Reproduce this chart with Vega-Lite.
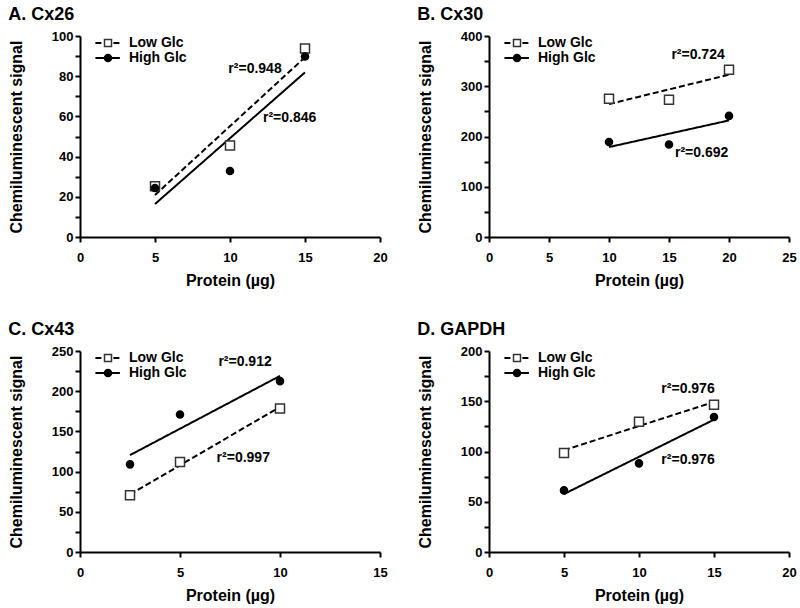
{
  "$schema": "https://vega.github.io/schema/vega-lite/v6.json",
  "background": "white",
  "padding": {"left": 8, "top": 6, "right": 5, "bottom": 2},
  "datasets": {
    "pts": [
      {"panel": "A", "group": "Low Glc", "x": 5, "y": 25.3},
      {"panel": "A", "group": "Low Glc", "x": 10, "y": 45.5},
      {"panel": "A", "group": "Low Glc", "x": 15, "y": 93.8},
      {"panel": "A", "group": "High Glc", "x": 5, "y": 24.4},
      {"panel": "A", "group": "High Glc", "x": 10, "y": 32.8},
      {"panel": "A", "group": "High Glc", "x": 15, "y": 89.8},
      {"panel": "B", "group": "Low Glc", "x": 10, "y": 275},
      {"panel": "B", "group": "Low Glc", "x": 15, "y": 273},
      {"panel": "B", "group": "Low Glc", "x": 20, "y": 333},
      {"panel": "B", "group": "High Glc", "x": 10, "y": 189},
      {"panel": "B", "group": "High Glc", "x": 15, "y": 184},
      {"panel": "B", "group": "High Glc", "x": 20, "y": 241},
      {"panel": "C", "group": "Low Glc", "x": 2.5, "y": 70.5},
      {"panel": "C", "group": "Low Glc", "x": 5, "y": 112},
      {"panel": "C", "group": "Low Glc", "x": 10, "y": 178.5},
      {"panel": "C", "group": "High Glc", "x": 2.5, "y": 109},
      {"panel": "C", "group": "High Glc", "x": 5, "y": 171},
      {"panel": "C", "group": "High Glc", "x": 10, "y": 212.5},
      {"panel": "D", "group": "Low Glc", "x": 5, "y": 98.5},
      {"panel": "D", "group": "Low Glc", "x": 10, "y": 129.5},
      {"panel": "D", "group": "Low Glc", "x": 15, "y": 146.5},
      {"panel": "D", "group": "High Glc", "x": 5, "y": 61.3},
      {"panel": "D", "group": "High Glc", "x": 10, "y": 88.2},
      {"panel": "D", "group": "High Glc", "x": 15, "y": 134.3}
    ],
    "fits": [
      {"panel": "A", "group": "Low Glc", "x": 5, "y": 20.9},
      {"panel": "A", "group": "Low Glc", "x": 15, "y": 89.4},
      {"panel": "A", "group": "High Glc", "x": 5, "y": 16.4},
      {"panel": "A", "group": "High Glc", "x": 15, "y": 81.9},
      {"panel": "B", "group": "Low Glc", "x": 10, "y": 264.5},
      {"panel": "B", "group": "Low Glc", "x": 20, "y": 323},
      {"panel": "B", "group": "High Glc", "x": 10, "y": 179},
      {"panel": "B", "group": "High Glc", "x": 20, "y": 232},
      {"panel": "C", "group": "Low Glc", "x": 2.5, "y": 71.5},
      {"panel": "C", "group": "Low Glc", "x": 10, "y": 180.5},
      {"panel": "C", "group": "High Glc", "x": 2.5, "y": 120.5},
      {"panel": "C", "group": "High Glc", "x": 10, "y": 219},
      {"panel": "D", "group": "Low Glc", "x": 5, "y": 101.3},
      {"panel": "D", "group": "Low Glc", "x": 15, "y": 149.3},
      {"panel": "D", "group": "High Glc", "x": 5, "y": 57.7},
      {"panel": "D", "group": "High Glc", "x": 15, "y": 131.7}
    ],
    "notes": [
      {"panel": "A", "x": 9.89, "y": 83.7, "label": "r²=0.948"},
      {"panel": "A", "x": 12.2, "y": 59.4, "label": "r²=0.846"},
      {"panel": "B", "x": 15.2, "y": 362, "label": "r²=0.724"},
      {"panel": "B", "x": 15.5, "y": 167, "label": "r²=0.692"},
      {"panel": "C", "x": 6.92, "y": 236, "label": "r²=0.912"},
      {"panel": "C", "x": 6.83, "y": 117, "label": "r²=0.997"},
      {"panel": "D", "x": 11.49, "y": 162, "label": "r²=0.976"},
      {"panel": "D", "x": 11.49, "y": 92, "label": "r²=0.976"}
    ]
  },
  "columns": 2,
  "spacing": {"row": 33, "column": 29},
  "concat": [
    {
      "width": 300, "height": 201,
      "title": "A. Cx26",
      "encoding": {
        "x": {"field": "x", "type": "quantitative", "scale": {"domain": [0, 20], "nice": false}, "axis": {"title": "Protein (µg)", "values": [0, 5, 10, 15, 20]}},
        "y": {"field": "y", "type": "quantitative", "scale": {"domain": [0, 100], "nice": false}, "axis": {"title": "Chemiluminescent signal", "values": [0, 10, 20, 30, 40, 50, 60, 70, 80, 90, 100], "labelExpr": "datum.value % 20 === 0 ? datum.label : ''"}}
      },
      "layer": [
        {"data": {"name": "fits"}, "transform": [{"filter": "datum.panel === 'A'"}], "mark": {"type": "line", "strokeWidth": 2, "color": "black"},
         "encoding": {"strokeDash": {"field": "group", "type": "nominal", "scale": {"domain": ["High Glc", "Low Glc"], "range": [[1, 0], [6, 3]]},
           "legend": {"title": null, "orient": "none", "legendX": 21, "legendY": 0, "values": ["Low Glc", "High Glc"], "padding": 0, "rowPadding": 1, "symbolType": "M-3.6,0H3.4", "symbolSize": 49, "symbolStrokeWidth": 2, "symbolStrokeColor": "black", "labelOffset": 14, "labelFont": "Liberation Sans", "labelFontSize": 14, "labelFontWeight": "bold", "labelOpacity": 0}}}},
        {"data": {"name": "pts"}, "transform": [{"filter": "datum.panel === 'A'"}], "mark": {"type": "point", "filled": true, "opacity": 1, "strokeWidth": 1.5},
         "encoding": {
           "shape": {"field": "group", "type": "nominal", "scale": {"domain": ["Low Glc", "High Glc"], "range": ["square", "circle"]},
             "legend": {"title": null, "orient": "none", "legendX": 21, "legendY": 0, "padding": 0, "rowPadding": 1, "symbolSize": 49, "symbolStrokeWidth": 1.5, "labelOffset": 14, "labelFont": "Liberation Sans", "labelFontSize": 14, "labelFontWeight": "bold", "labelColor": "black"}},
           "fill": {"field": "group", "type": "nominal", "scale": {"domain": ["Low Glc", "High Glc"], "range": ["white", "black"]}},
           "stroke": {"field": "group", "type": "nominal", "scale": {"domain": ["Low Glc", "High Glc"], "range": ["#333333", "black"]}},
           "size": {"condition": {"test": "datum.group === 'Low Glc'", "value": 81}, "value": 50}
         }},
        {"data": {"name": "notes"}, "transform": [{"filter": "datum.panel === 'A'"}], "mark": {"type": "text", "align": "left", "baseline": "middle", "font": "Liberation Sans", "fontSize": 14, "fontWeight": "bold", "color": "black"},
         "encoding": {"text": {"field": "label"}}}
      ]
    },
    {
      "width": 300, "height": 201,
      "title": "B. Cx30",
      "encoding": {
        "x": {"field": "x", "type": "quantitative", "scale": {"domain": [0, 25], "nice": false}, "axis": {"title": "Protein (µg)", "values": [0, 5, 10, 15, 20, 25]}},
        "y": {"field": "y", "type": "quantitative", "scale": {"domain": [0, 400], "nice": false}, "axis": {"title": "Chemiluminescent signal", "values": [0, 50, 100, 150, 200, 250, 300, 350, 400], "labelExpr": "datum.value % 100 === 0 ? datum.label : ''"}}
      },
      "layer": [
        {"data": {"name": "fits"}, "transform": [{"filter": "datum.panel === 'B'"}], "mark": {"type": "line", "strokeWidth": 2, "color": "black"},
         "encoding": {"strokeDash": {"field": "group", "type": "nominal", "scale": {"domain": ["High Glc", "Low Glc"], "range": [[1, 0], [6, 3]]},
           "legend": {"title": null, "orient": "none", "legendX": 21, "legendY": 0, "values": ["Low Glc", "High Glc"], "padding": 0, "rowPadding": 1, "symbolType": "M-3.6,0H3.4", "symbolSize": 49, "symbolStrokeWidth": 2, "symbolStrokeColor": "black", "labelOffset": 14, "labelFont": "Liberation Sans", "labelFontSize": 14, "labelFontWeight": "bold", "labelOpacity": 0}}}},
        {"data": {"name": "pts"}, "transform": [{"filter": "datum.panel === 'B'"}], "mark": {"type": "point", "filled": true, "opacity": 1, "strokeWidth": 1.5},
         "encoding": {
           "shape": {"field": "group", "type": "nominal", "scale": {"domain": ["Low Glc", "High Glc"], "range": ["square", "circle"]},
             "legend": {"title": null, "orient": "none", "legendX": 21, "legendY": 0, "padding": 0, "rowPadding": 1, "symbolSize": 49, "symbolStrokeWidth": 1.5, "labelOffset": 14, "labelFont": "Liberation Sans", "labelFontSize": 14, "labelFontWeight": "bold", "labelColor": "black"}},
           "fill": {"field": "group", "type": "nominal", "scale": {"domain": ["Low Glc", "High Glc"], "range": ["white", "black"]}},
           "stroke": {"field": "group", "type": "nominal", "scale": {"domain": ["Low Glc", "High Glc"], "range": ["#333333", "black"]}},
           "size": {"condition": {"test": "datum.group === 'Low Glc'", "value": 81}, "value": 50}
         }},
        {"data": {"name": "notes"}, "transform": [{"filter": "datum.panel === 'B'"}], "mark": {"type": "text", "align": "left", "baseline": "middle", "font": "Liberation Sans", "fontSize": 14, "fontWeight": "bold", "color": "black"},
         "encoding": {"text": {"field": "label"}}}
      ]
    },
    {
      "width": 300, "height": 201,
      "title": "C. Cx43",
      "encoding": {
        "x": {"field": "x", "type": "quantitative", "scale": {"domain": [0, 15], "nice": false}, "axis": {"title": "Protein (µg)", "values": [0, 5, 10, 15]}},
        "y": {"field": "y", "type": "quantitative", "scale": {"domain": [0, 250], "nice": false}, "axis": {"title": "Chemiluminescent signal", "values": [0, 25, 50, 75, 100, 125, 150, 175, 200, 225, 250], "labelExpr": "datum.value % 50 === 0 ? datum.label : ''"}}
      },
      "layer": [
        {"data": {"name": "fits"}, "transform": [{"filter": "datum.panel === 'C'"}], "mark": {"type": "line", "strokeWidth": 2, "color": "black"},
         "encoding": {"strokeDash": {"field": "group", "type": "nominal", "scale": {"domain": ["High Glc", "Low Glc"], "range": [[1, 0], [6, 3]]},
           "legend": {"title": null, "orient": "none", "legendX": 21, "legendY": 0, "values": ["Low Glc", "High Glc"], "padding": 0, "rowPadding": 1, "symbolType": "M-3.6,0H3.4", "symbolSize": 49, "symbolStrokeWidth": 2, "symbolStrokeColor": "black", "labelOffset": 14, "labelFont": "Liberation Sans", "labelFontSize": 14, "labelFontWeight": "bold", "labelOpacity": 0}}}},
        {"data": {"name": "pts"}, "transform": [{"filter": "datum.panel === 'C'"}], "mark": {"type": "point", "filled": true, "opacity": 1, "strokeWidth": 1.5},
         "encoding": {
           "shape": {"field": "group", "type": "nominal", "scale": {"domain": ["Low Glc", "High Glc"], "range": ["square", "circle"]},
             "legend": {"title": null, "orient": "none", "legendX": 21, "legendY": 0, "padding": 0, "rowPadding": 1, "symbolSize": 49, "symbolStrokeWidth": 1.5, "labelOffset": 14, "labelFont": "Liberation Sans", "labelFontSize": 14, "labelFontWeight": "bold", "labelColor": "black"}},
           "fill": {"field": "group", "type": "nominal", "scale": {"domain": ["Low Glc", "High Glc"], "range": ["white", "black"]}},
           "stroke": {"field": "group", "type": "nominal", "scale": {"domain": ["Low Glc", "High Glc"], "range": ["#333333", "black"]}},
           "size": {"condition": {"test": "datum.group === 'Low Glc'", "value": 81}, "value": 50}
         }},
        {"data": {"name": "notes"}, "transform": [{"filter": "datum.panel === 'C'"}], "mark": {"type": "text", "align": "left", "baseline": "middle", "font": "Liberation Sans", "fontSize": 14, "fontWeight": "bold", "color": "black"},
         "encoding": {"text": {"field": "label"}}}
      ]
    },
    {
      "width": 300, "height": 201,
      "title": "D. GAPDH",
      "encoding": {
        "x": {"field": "x", "type": "quantitative", "scale": {"domain": [0, 20], "nice": false}, "axis": {"title": "Protein (µg)", "values": [0, 5, 10, 15, 20]}},
        "y": {"field": "y", "type": "quantitative", "scale": {"domain": [0, 200], "nice": false}, "axis": {"title": "Chemiluminescent signal", "values": [0, 25, 50, 75, 100, 125, 150, 175, 200], "labelExpr": "datum.value % 50 === 0 ? datum.label : ''"}}
      },
      "layer": [
        {"data": {"name": "fits"}, "transform": [{"filter": "datum.panel === 'D'"}], "mark": {"type": "line", "strokeWidth": 2, "color": "black"},
         "encoding": {"strokeDash": {"field": "group", "type": "nominal", "scale": {"domain": ["High Glc", "Low Glc"], "range": [[1, 0], [6, 3]]},
           "legend": {"title": null, "orient": "none", "legendX": 21, "legendY": 0, "values": ["Low Glc", "High Glc"], "padding": 0, "rowPadding": 1, "symbolType": "M-3.6,0H3.4", "symbolSize": 49, "symbolStrokeWidth": 2, "symbolStrokeColor": "black", "labelOffset": 14, "labelFont": "Liberation Sans", "labelFontSize": 14, "labelFontWeight": "bold", "labelOpacity": 0}}}},
        {"data": {"name": "pts"}, "transform": [{"filter": "datum.panel === 'D'"}], "mark": {"type": "point", "filled": true, "opacity": 1, "strokeWidth": 1.5},
         "encoding": {
           "shape": {"field": "group", "type": "nominal", "scale": {"domain": ["Low Glc", "High Glc"], "range": ["square", "circle"]},
             "legend": {"title": null, "orient": "none", "legendX": 21, "legendY": 0, "padding": 0, "rowPadding": 1, "symbolSize": 49, "symbolStrokeWidth": 1.5, "labelOffset": 14, "labelFont": "Liberation Sans", "labelFontSize": 14, "labelFontWeight": "bold", "labelColor": "black"}},
           "fill": {"field": "group", "type": "nominal", "scale": {"domain": ["Low Glc", "High Glc"], "range": ["white", "black"]}},
           "stroke": {"field": "group", "type": "nominal", "scale": {"domain": ["Low Glc", "High Glc"], "range": ["#333333", "black"]}},
           "size": {"condition": {"test": "datum.group === 'Low Glc'", "value": 81}, "value": 50}
         }},
        {"data": {"name": "notes"}, "transform": [{"filter": "datum.panel === 'D'"}], "mark": {"type": "text", "align": "left", "baseline": "middle", "font": "Liberation Sans", "fontSize": 14, "fontWeight": "bold", "color": "black"},
         "encoding": {"text": {"field": "label"}}}
      ]
    }
  ],
  "resolve": {"scale": {"x": "independent", "y": "independent", "shape": "independent", "fill": "independent", "stroke": "independent", "strokeDash": "independent"}},
  "config": {
    "font": "Liberation Sans",
    "view": {"stroke": null},
    "title": {"font": "Liberation Sans", "fontSize": 18, "fontWeight": "bold", "color": "black", "anchor": "start", "frame": "bounds", "offset": 6},
    "axis": {"grid": false, "domainColor": "black", "domainWidth": 2, "tickColor": "black", "tickWidth": 2, "tickSize": 5, "labelFont": "Liberation Sans", "labelFontSize": 13, "labelFontWeight": "bold", "labelColor": "black", "titleFont": "Liberation Sans", "titleFontSize": 16, "titleFontWeight": "bold", "titleColor": "black", "labelFlush": false, "labelOverlap": false},
    "axisX": {"labelPadding": 9, "titlePadding": 8},
    "axisY": {"labelPadding": 2, "titlePadding": 27}
  }
}
